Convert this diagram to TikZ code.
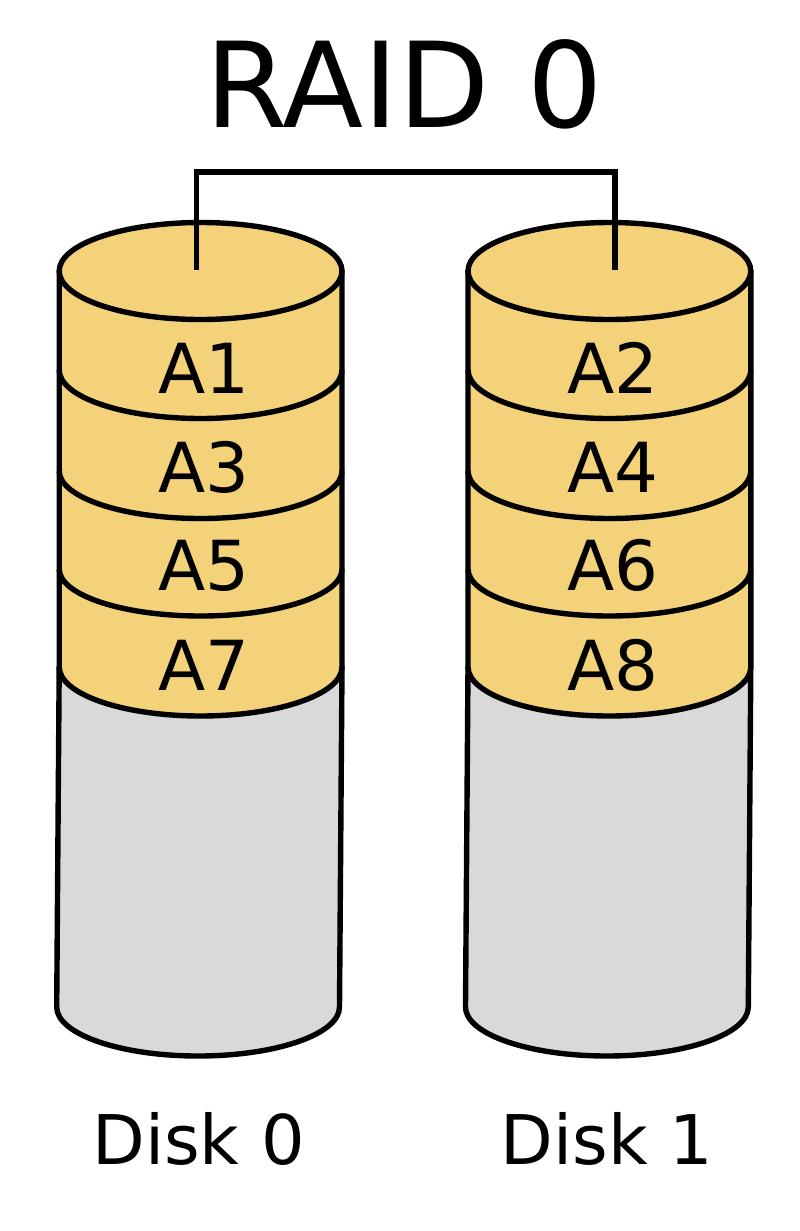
\documentclass[tikz,border=0pt]{standalone}
\usepackage{fontspec}
\setmainfont{DejaVu Sans}
\definecolor{diskgold}{HTML}{F4D27A}
\definecolor{diskgrey}{HTML}{D9D9D9}
\tikzset{
  px/.style={x=1pt,y=-1pt},
  edge/.style={draw=black,line width=5.4pt,line join=round},
  wire/.style={draw=black,line width=5.4pt,line join=miter},
  lab/.style={font=\fontsize{69}{69}\selectfont,inner sep=0pt,anchor=base},
  dsk/.style={font=\fontsize{68.5}{68.5}\selectfont,inner sep=0pt,anchor=base},
  ttl/.style={font=\fontsize{118.5}{118.5}\selectfont,inner sep=0pt,anchor=base},
}
\newcommand{\diskstack}[2]{%
  \begin{scope}[shift={(#1,0)}]
    \path[edge,fill=diskgrey] (0,667) -- (-2.5,1007) arc[start angle=180,end angle=0,x radius=141.4,y radius=49] -- (282.8,667) -- cycle;
    \path[edge,fill=diskgold] (0,271) -- (0,667) arc[start angle=180,end angle=0,x radius=141.4,y radius=49] -- (282.8,271) -- cycle;
    \path[edge] (0,569) arc[start angle=180,end angle=0,x radius=141.4,y radius=47];
    \path[edge] (0,471) arc[start angle=180,end angle=0,x radius=141.4,y radius=47.5];
    \path[edge] (0,370) arc[start angle=180,end angle=0,x radius=141.4,y radius=48.5];
    \path[edge,fill=diskgold] (141.4,271) ellipse[x radius=141.4,y radius=48.5];
  \end{scope}}
\begin{document}
\begin{tikzpicture}[px]
\useasboundingbox (0,0) rectangle (800,1231);
\fill[white] (0,0) rectangle (800,1231);
\diskstack{59.2}{a}
\diskstack{468}{b}
\coordinate (c0) at (196.7,270);
\coordinate (c1) at (615,270);
\path[wire] (c0) |- (406,172) -| (c1);
\node[ttl] (title) at (404,127) {RAID 0};
\node[lab] (a1) at (204,393.5) {A1};
\node[lab] (a3) at (204,492.5) {A3};
\node[lab] (a5) at (204,590.5) {A5};
\node[lab] (a7) at (204,690.5) {A7};
\node[lab] (a2) at (613,393.5) {A2};
\node[lab] (a4) at (613,492.5) {A4};
\node[lab] (a6) at (613,590.5) {A6};
\node[lab] (a8) at (613,690.5) {A8};
\node[dsk] (d0) at (198.5,1164) {Disk 0};
\node[dsk] (d1) at (607,1164) {Disk 1};
\end{tikzpicture}
\end{document}
